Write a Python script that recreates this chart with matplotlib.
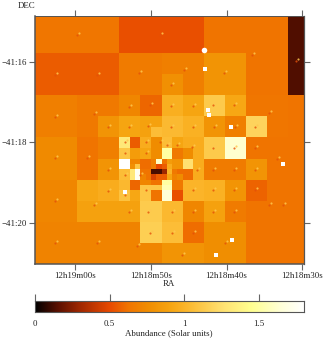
import numpy as np
import matplotlib
matplotlib.use("Agg")
import matplotlib.pyplot as plt
from matplotlib.colors import LinearSegmentedColormap

plt.rcParams['font.family'] = ['Liberation Serif', 'DejaVu Serif']

# Abundance map, coarse bins: first row is the clipped top row, last column the clipped right column
row_top = [.63]*8 + [.52]*8 + [.62]*8 + [.14]
abundance_rows = [
    row_top,
    [.55]*8 + [.66]*4 + [.68]*4 + [.80]*4 + [.62]*4 + [.14],
    [.55]*8 + [.66]*4 + [.68]*4 + [.80]*4 + [.62]*4 + [.14],
    [.55]*8 + [.66]*4 + [.78,.78,.68,.68] + [.80]*4 + [.62]*4 + [.14],
    [.55]*8 + [.66]*4 + [.78,.78,.68,.68] + [.80]*4 + [.62]*4 + [.14],
    [.68]*4 + [.65]*4 + [.72,.72,.58,.58] + [.97,.97,.90,.90] + [1.12,1.12,.92,.92] + [.63]*4 + [.62],
    [.68]*4 + [.65]*4 + [.72,.72,.58,.58] + [.97,.97,.90,.90] + [1.12,1.12,.92,.92] + [.63]*4 + [.62],
    [.68]*4 + [.65,.65,.80,.80] + [.90,.90,.88,.88] + [1.03,1.03,.98,.98] + [.80,.80,.68,.68] + [1.18,1.18,.63,.63] + [.62],
    [.68]*4 + [.65,.65,.80,.80] + [.90,.90,.88,1.05] + [1.03,1.03,.98,.98] + [.80,.80,.68,.68] + [1.18,1.18,.63,.63] + [.62],
    [.74]*4 + [.62,.62,.68,.68] + [.8]*8 + [1.12,1.12,1.62,1.62] + [.62]*4 + [.62],
    [.74]*4 + [.62,.62,.68,.68] + [.8]*8 + [1.12,1.12,1.62,1.62] + [.62]*4 + [.62],
    [.74]*4 + [.62,.62,.80,.80] + [.8]*8 + [.66]*4 + [.80,.80,.62,.62] + [.62],
    [.74]*4 + [.62,.62,.80,.80] + [.8]*8 + [.66]*4 + [.80,.80,.62,.62] + [.62],
    [.72]*4 + [.92,.92,.95,.95] + [.8]*8 + [.98,.98,.80,.80] + [.57,.57,.62,.62] + [.62],
    [.72]*4 + [.92,.92,.95,.95] + [.8]*8 + [.98,.98,.80,.80] + [.57,.57,.62,.62] + [.62],
    [.72]*4 + [.88]*4 + [.88,.88,1.13,1.13] + [1.02,1.02,.72,.72] + [.88,.88,.66,.66] + [.62]*4 + [.62],
    [.72]*4 + [.88]*4 + [.88,.88,1.13,1.13] + [1.02,1.02,.72,.72] + [.88,.88,.66,.66] + [.62]*4 + [.62],
    [.70]*8 + [.70,.70,1.15,1.15] + [1.05,1.05,.60,.60] + [.76]*4 + [.62]*4 + [.62],
    [.70]*8 + [.70,.70,1.15,1.15] + [1.05,1.05,.60,.60] + [.76]*4 + [.62]*4 + [.62],
    [.70]*8 + [.70,.70,.72,.72] + [.80]*4 + [.76]*4 + [.62]*4 + [.62],
    [.70]*8 + [.70,.70,.72,.72] + [.80]*4 + [.76]*4 + [.62]*4 + [.62],
]

# Central finely binned region
abundance_core = [
    [1.30,1.30,.55,.55,.95,.95,.75,.75,1.05,1.05,.90,.90,.95,.95,.95,.95],
    [1.30,1.30,.55,.55,.95,.95,.75,.75,1.05,1.05,.90,.90,.95,.95,.95,.95],
    [1.10,1.10,.85,.85,.90,.90,.75,.75,1.50,1.50,.65,.65,.75,.75,.95,.95],
    [1.10,1.10,.85,.85,.90,.90,.75,.75,1.50,1.50,.65,.65,.75,.75,.95,.95],
    [1.80,1.80,.72,.72,.60,.60,.68,1.60,.62,.85,.80,.80,1.25,1.25,.95,.95],
    [1.80,1.80,.78,1.10,.60,.60,.68,.50,.55,.95,.80,.80,1.25,1.25,.95,.95],
    [1.05,1.05,1.30,1.75,.62,.62,.12,.12,.30,1.00,.65,.60,.60,.60,.95,.95],
    [1.05,1.05,1.30,1.75,.70,.62,.45,.55,.55,.90,.70,.75,.60,.60,.95,.95],
    [1.02,1.02,.58,.58,.72,.72,.62,.62,1.50,1.50,.65,.65,1.00,1.00,1.00,1.00],
    [1.02,1.02,.58,.58,1.10,1.10,1.10,1.10,1.55,1.55,.65,.65,1.00,1.00,1.00,1.00],
    [1.08,1.08,.92,.92,1.10,1.10,.62,.62,1.65,1.65,.52,.52,1.00,1.00,1.00,1.00],
    [1.08,1.08,.92,.92,1.10,1.10,.62,.62,1.65,1.65,.52,.52,1.00,1.00,1.00,1.00],
]

# Point sources: RA seconds after 12h18m, Dec arcmin after -41 deg
src_ra = [59.80,62.72,57.15,51.59,62.72,57.55,52.91,50.13,55.70,52.91,50.40,48.81,
          36.62,30.80,45.63,40.33,47.35,47.35,44.44,41.79,39.01,34.37,47.35,44.44,41.66,38.87,36.23,44.57,
          62.72,58.48,55.70,62.72,57.55,55.70,52.91,50.13,62.72,57.15,51.85,50.40,
          36.23,33.31,41.79,39.01,41.79,39.01,36.23,43.91,36.23,44.44,41.79,39.01,34.37,32.52,
          47.22,44.44,41.79,39.01,47.22,44.44,40.20,45.89,
          53.44,53.44,50.66,50.66,53.44,53.44,50.66,47.88,46.56,51.46,48.81]
src_dec = [15.33,16.32,16.32,16.27,17.37,17.30,17.12,17.07,17.62,17.62,17.60,15.33,
           15.83,15.98,16.20,16.27,16.57,17.10,17.10,17.07,17.07,17.27,17.62,17.62,17.62,17.62,17.62,18.12,
           18.39,18.39,18.69,19.46,19.56,19.22,19.74,20.26,20.51,20.51,20.59,19.74,
           18.14,18.42,18.14,18.14,18.69,18.69,18.69,18.69,19.19,19.19,19.19,19.19,19.56,19.56,
           19.74,19.74,19.74,19.74,20.26,20.26,20.51,20.81,
           17.99,18.27,17.99,18.27,18.82,19.32,19.19,18.07,18.07,18.82,17.99]

# Bright compact sources
bright_ra = [42.85,42.45,42.32,39.40,32.52,39.27,41.39,53.44]
bright_dec = [16.17,17.20,17.32,17.62,18.54,20.44,20.81,19.24]
big_ra = [42.98]
big_dec = [15.70]

ra_ticks = [60, 50, 40, 30]
ra_labels = ['12h19m00s', '12h18m50s', '12h18m40s', '12h18m30s']
dec_ticks = [16, 18, 20]
dec_labels = ['\u221241:16', '\u221241:18', '\u221241:20']
cbar_ticks = [0, 0.5, 1, 1.5]
cbar_labels = ['0', '0.5', '1', '1.5']

cmap = LinearSegmentedColormap.from_list('abund', [
    (0/1.8, '#000000'), (.15/1.8, '#5A1000'), (.30/1.8, '#A02800'), (.50/1.8, '#E84A00'),
    (.62/1.8, '#F07400'), (.75/1.8, '#F08C00'), (.90/1.8, '#F6A410'), (1.0/1.8, '#FBB428'),
    (1.25/1.8, '#FFE070'), (1.45/1.8, '#FFFF90'), (1.65/1.8, '#FFFFD8'), (1.0, '#FFFFFF')])

W, H = 324, 340
fig = plt.figure(figsize=(W/100, H/100), dpi=100)
ax = fig.add_axes([35/W, 1-264/H, 269/W, 248/H])

XLIM = (65.36, 29.74)
YLIM = (21.03, 14.85)
dx = 1.396
dy = 0.2627
x0 = XLIM[0]
y0 = 15.776

coarse = np.array(abundance_rows)
xe = np.r_[x0 - dx*np.arange(25), XLIM[1]]
ye = np.r_[YLIM[1], y0 + dy*np.arange(21)]
ax.pcolormesh(xe, ye, coarse, cmap=cmap, vmin=0, vmax=1.8, shading='flat', linewidth=0, rasterized=True)

core = np.array(abundance_core)
xc0 = x0 - dx*8
yc0 = y0 + dy*8
xf = xc0 - dx/2*np.arange(core.shape[1]+1)
yf = yc0 + dy/2*np.arange(core.shape[0]+1)
ax.pcolormesh(xf, yf, core, cmap=cmap, vmin=0, vmax=1.8, shading='flat', linewidth=0, rasterized=True)

ax.scatter(src_ra, src_dec, s=2.4, c='#E4500A', alpha=.8, linewidths=0, zorder=3)
lra = np.array(src_ra) - 2/7.55
ldec = np.array(src_dec) - 2/40.12
ax.scatter(lra, ldec, s=2.4, c='#FFC850', alpha=.85, linewidths=0, zorder=3)
ax.scatter(bright_ra, bright_dec, s=5, c='white', marker='s', linewidths=0, zorder=4)
ax.scatter(big_ra, big_dec, s=16, c='white', linewidths=0, zorder=4)

ax.set_xlim(*XLIM)
ax.set_ylim(*YLIM)
ax.set_xticks(ra_ticks, ra_labels)
ax.set_yticks(dec_ticks, dec_labels)
ax.tick_params(axis='both', direction='out', length=4, width=.8, color='#666666', labelsize=6.4,
               labelcolor='#222222', pad=2, top=True, right=True)
for side, lw in (('left', 1.1), ('bottom', 1.1), ('top', .7), ('right', .9)):
    ax.spines[side].set_linewidth(lw)
    ax.spines[side].set_color('#555555')
fig.text(27/W, 1-6/H, 'DEC', fontsize=6.4, color='#222222', ha='center', va='center')
fig.text(169/W, 1-284/H, 'RA', fontsize=6.4, color='#222222', ha='center', va='center')

cax = fig.add_axes([35/W, 1-312/H, 269/W, 11/H])
grad = np.linspace(0, 1.8, 512)[None, :]
cax.imshow(grad, extent=(0, 1.8, 0, 1), aspect='auto', cmap=cmap, vmin=0, vmax=1.8)
cax.set_yticks([])
cax.set_xticks(cbar_ticks, cbar_labels)
cax.tick_params(axis='x', top=True, bottom=False, direction='out', length=5, width=.8, color='#666666',
                labelsize=6.4, labelcolor='#222222', pad=1)
for s in cax.spines.values():
    s.set_linewidth(.8)
    s.set_color('#555555')
fig.text(169/W, 1-333/H, 'Abundance (Solar units)', fontsize=6.4, color='#222222', ha='center', va='center')

fig.savefig('out.png', dpi=100)
